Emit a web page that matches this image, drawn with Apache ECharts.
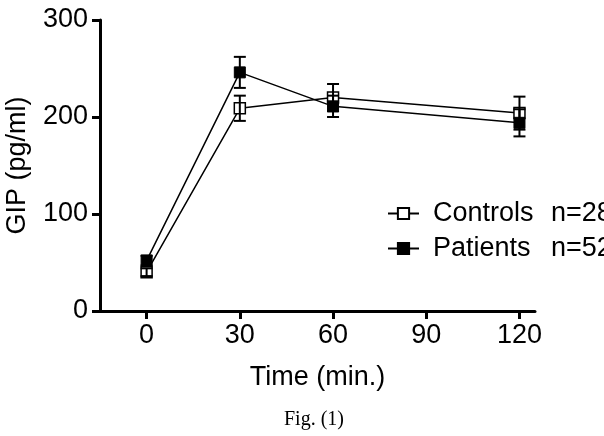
<!DOCTYPE html>
<html>
<head>
<meta charset="utf-8">
<script src="https://cdn.jsdelivr.net/npm/echarts@6/dist/echarts.min.js"></script>
<style>
html, body { margin: 0; padding: 0; background: #fff; }
#chart { width: 604px; height: 436px; }
</style>
</head>
<body>
<div id="chart"></div>
<script>
// time points (min.)
var times = [0, 30, 60, 120];
var xTicks = [0, 30, 60, 90, 120];

// GIP means and SEM
var controls = [40, 209, 220, 204];
var controlsErr = [4, 13, 14, 17];
var patients = [52, 246, 211, 194];
var patientsErr = [5, 16, 11, 14];

var groupNames = ['Controls', 'Patients'];
var groupN = { Controls: 28, Patients: 52 };

var FONT = 'Liberation Sans, Arial, Helvetica, sans-serif';

function pairs(vals) {
	var out = [];
	for (var i = 0; i < times.length; i++) {
		out.push([times[i], vals[i]]);
	}
	return out;
}

function errRows(vals, errs) {
	var out = [];
	for (var i = 0; i < times.length; i++) {
		out.push([times[i], vals[i] - errs[i], vals[i] + errs[i]]);
	}
	return out;
}

/**
 * error bar with caps
 */
function renderErrorBar(params, api) {
	var x = api.value(0);
	var lo = api.coord([x, api.value(1)]);
	var hi = api.coord([x, api.value(2)]);
	var half = 6;
	var style = { stroke: '#000', lineWidth: 2, fill: null };
	return {
		type: 'group',
		children: [
			{ type: 'line', shape: { x1: lo[0], y1: lo[1], x2: hi[0], y2: hi[1] }, style: style },
			{ type: 'line', shape: { x1: hi[0] - half, y1: hi[1], x2: hi[0] + half, y2: hi[1] }, style: style },
			{ type: 'line', shape: { x1: lo[0] - half, y1: lo[1], x2: lo[0] + half, y2: lo[1] }, style: style }
		]
	};
}

var myChart = echarts.init(document.getElementById('chart'), null, { renderer: 'canvas' });

var option = {
	animation: false,
	backgroundColor: '#fff',
	textStyle: { fontFamily: FONT, color: '#000' },
	grid: {
		left: 100,
		right: 69,
		top: 20,
		bottom: 125,
		outerBoundsMode: 'none'
	},
	legend: {
		data: groupNames,
		orient: 'vertical',
		left: 382,
		top: 195,
		itemWidth: 31,
		itemHeight: 14,
		itemGap: 8,
		selectedMode: false,
		formatter: function (name) {
			return '{a|' + name + '}{b|n=' + groupN[name] + '}';
		},
		textStyle: {
			padding: [0, 0, 0, 9],
			rich: {
				a: { fontFamily: FONT, fontSize: 27, color: '#000', width: 118, lineHeight: 30 },
				b: { fontFamily: FONT, fontSize: 27, color: '#000', lineHeight: 30 }
			}
		}
	},
	xAxis: {
		type: 'value',
		min: -15,
		max: 125,
		name: 'Time (min.)',
		nameLocation: 'middle',
		nameGap: 53,
		nameTextStyle: { fontFamily: FONT, fontSize: 27, color: '#000' },
		axisLine: { onZero: false, lineStyle: { color: '#000', width: 3 } },
		axisTick: { customValues: xTicks, length: 8, lineStyle: { color: '#000', width: 3 } },
		axisLabel: { customValues: xTicks, fontFamily: FONT, fontSize: 27, color: '#000', margin: 11 },
		splitLine: { show: false }
	},
	yAxis: {
		type: 'value',
		min: 0,
		max: 300,
		interval: 100,
		name: 'GIP (pg/ml)',
		nameLocation: 'middle',
		nameRotate: 90,
		nameGap: 69,
		nameTextStyle: { fontFamily: FONT, fontSize: 27, color: '#000' },
		axisLine: { show: true, onZero: false, lineStyle: { color: '#000', width: 3 } },
		axisTick: { show: true, length: 8, lineStyle: { color: '#000', width: 3 } },
		axisLabel: { fontFamily: FONT, fontSize: 27, color: '#000', margin: 12 },
		splitLine: { show: false }
	},
	series: [
		{
			name: 'Controls',
			type: 'line',
			data: pairs(controls),
			symbol: 'rect',
			symbolSize: 11,
			lineStyle: { color: '#000', width: 1.5 },
			itemStyle: { color: '#fff', borderColor: '#000', borderWidth: 1.5 },
			z: 2
		},
		{
			name: 'Patients',
			type: 'line',
			data: pairs(patients),
			symbol: 'rect',
			symbolSize: 11,
			lineStyle: { color: '#000', width: 1.5 },
			itemStyle: { color: '#000', borderColor: '#000', borderWidth: 1 },
			z: 2
		},
		{
			name: 'Controls SEM',
			type: 'custom',
			renderItem: renderErrorBar,
			encode: { x: 0, y: [1, 2] },
			data: errRows(controls, controlsErr),
			z: 3
		},
		{
			name: 'Patients SEM',
			type: 'custom',
			renderItem: renderErrorBar,
			encode: { x: 0, y: [1, 2] },
			data: errRows(patients, patientsErr),
			z: 3
		}
	],
	graphic: [{
		type: 'text',
		x: 314,
		y: 420,
		style: {
			text: 'Fig. (1)',
			font: '20px "Liberation Serif", "Times New Roman", serif',
			fill: '#000',
			textAlign: 'center',
			textVerticalAlign: 'middle'
		}
	}]
};

myChart.setOption(option);
</script>
</body>
</html>
